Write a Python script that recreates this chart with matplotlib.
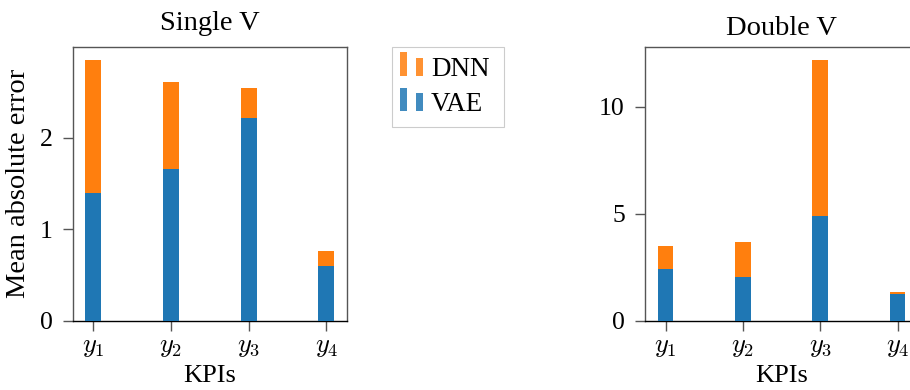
import matplotlib
matplotlib.use("Agg")
import matplotlib.pyplot as plt
from matplotlib.patches import Rectangle
from matplotlib.legend_handler import HandlerBase
import numpy as np

# KPI labels and mean absolute errors per model
kpis = [r"$y_1$", r"$y_2$", r"$y_3$", r"$y_4$"]
single_dnn = [2.85, 2.61, 2.54, 0.76]
single_vae = [1.40, 1.66, 2.21, 0.60]
double_dnn = [3.50, 3.69, 12.20, 1.34]
double_vae = [2.43, 2.06, 4.90, 1.25]

BLUE = "#1f77b4"
ORANGE = "#ff7f0e"

plt.rcParams["font.family"] = ["Liberation Serif", "DejaVu Serif"]
plt.rcParams["mathtext.fontset"] = "cm"
plt.rcParams["font.size"] = 19

fig = plt.figure(figsize=(9.1, 3.9), dpi=100)
ax1 = fig.add_axes([0.0799, 0.1777, 0.3014, 0.7026])
ax2 = fig.add_axes([0.7088, 0.1777, 0.3000, 0.7026])

width = 0.205
x = np.arange(len(kpis))


def draw(ax, dnn, vae, title, title_pad):
    ax.bar(x, dnn, width, color=ORANGE, label="DNN", zorder=2)
    ax.bar(x, vae, width, color=BLUE, label="VAE", zorder=3)
    ax.set_xlim(-0.265, 3.265)
    ax.set_ylim(0, max(dnn) * 1.05)
    ax.set_xticks(x)
    ax.set_xticklabels(kpis)
    ax.set_title(title, fontsize=20.5, pad=title_pad)
    ax.set_xlabel("KPIs", fontsize=19, labelpad=4.5)
    ax.tick_params(axis="both", direction="out", length=7.5, width=1.0,
                   color="#555555", labelsize=18.5)
    ax.tick_params(axis="y", pad=7)
    ax.tick_params(axis="x", labelsize=19, pad=4)
    for side in ("top", "right", "left"):
        ax.spines[side].set_color("#555555")
        ax.spines[side].set_linewidth(1.0)
    ax.spines["bottom"].set_color("black")
    ax.spines["bottom"].set_linewidth(1.0)


draw(ax1, single_dnn, single_vae, "Single V", 12.0)
draw(ax2, double_dnn, double_vae, "Double V", 8.5)
ax1.set_yticks([0, 1, 2])
ax2.set_yticks([0, 5, 10])
ax1.set_ylabel("Mean absolute error", fontsize=20.5, labelpad=6)


class TwoBarHandler(HandlerBase):
    def create_artists(self, legend, orig_handle, xdescent, ydescent,
                       width, height, fontsize, trans):
        color = orig_handle.get_facecolor()
        bw = width * 0.31
        r1 = Rectangle((-xdescent, -ydescent), bw, height * 1.25,
                       facecolor=color, edgecolor="none", alpha=0.85,
                       transform=trans)
        r2 = Rectangle((-xdescent + width - bw, -ydescent), bw, height * 0.95,
                       facecolor=color, edgecolor="none", alpha=0.85,
                       transform=trans)
        return [r1, r2]


# legend box drawn as a plain rectangle in figure coordinates
fig.patches.append(Rectangle((0.4304, 0.6744), 0.1234, 0.2059,
                             transform=fig.transFigure, facecolor="white",
                             edgecolor="#cccccc", linewidth=0.8, zorder=0))

handles = [Rectangle((0, 0), 1, 1, facecolor=ORANGE),
           Rectangle((0, 0), 1, 1, facecolor=BLUE)]
leg = fig.legend(handles, ["DNN", "VAE"], loc="upper left",
                 bbox_to_anchor=(0.4396, 0.855), borderaxespad=0,
                 handler_map={Rectangle: TwoBarHandler()},
                 frameon=False, fontsize=19.5, handlelength=0.85,
                 handletextpad=0.3, labelspacing=0.40, borderpad=0)

fig.savefig("out.png", dpi=100)
